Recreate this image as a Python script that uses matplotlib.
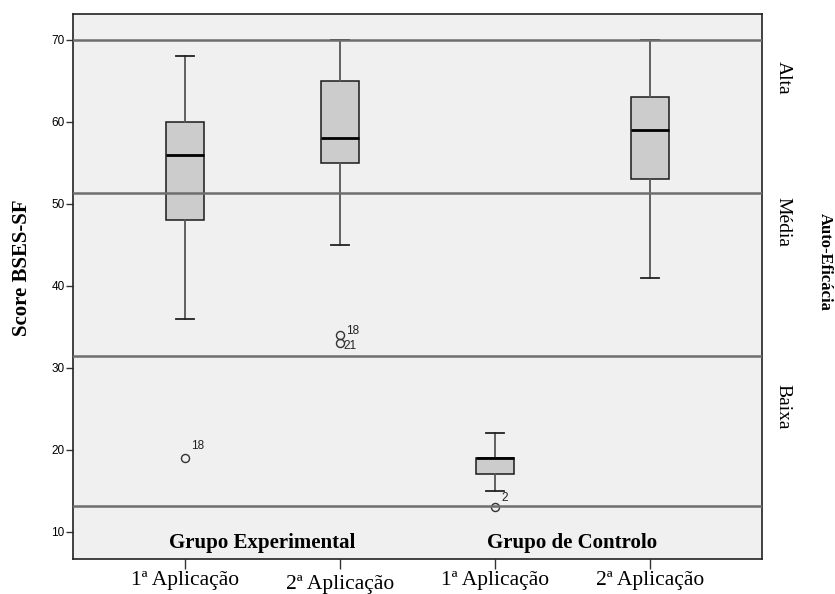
import matplotlib
matplotlib.use("Agg")
import matplotlib.pyplot as plt
from matplotlib import transforms

# values
groups = ["Grupo Experimental", "Grupo de Controlo"]
tick_labels = ["1ª Aplicação", "2ª Aplicação", "1ª Aplicação", "2ª Aplicação"]
whis_low = [36, 45, 15, 41]
q1 = [48, 55, 17, 53]
medians = [56, 58, 19, 59]
q3 = [60, 65, 19, 63]
whis_high = [68, 70, 22, 70]
outliers = [[19], [34, 33], [13], []]
outlier_ids = [["18"], ["18", "21"], ["2"], []]
level_cuts = [13.1, 31.4, 51.3, 70.0]
level_names = ["Alta", "Média", "Baixa"]

serif = "Liberation Serif"
sans = "Liberation Sans"

fig = plt.figure(figsize=(8.35, 5.94), dpi=100)
ax = fig.add_axes([73 / 835, 35 / 594, 689 / 835, 545 / 594])
ax.set_facecolor("#f0f0f0")

positions = [1, 2, 3, 4]
stats = []
for i in range(len(positions)):
    stats.append(dict(whislo=whis_low[i], q1=q1[i], med=medians[i], q3=q3[i],
                      whishi=whis_high[i], fliers=outliers[i]))

ax.bxp(stats, positions=positions, widths=0.25, capwidths=0.12,
       patch_artist=True, manage_ticks=False,
       boxprops=dict(facecolor="#cccccc", edgecolor="#1a1a1a", linewidth=1.1),
       whiskerprops=dict(color="#555555", linewidth=1.3),
       capprops=dict(color="#222222", linewidth=1.3),
       medianprops=dict(color="black", linewidth=2.0),
       flierprops=dict(marker="o", markerfacecolor="none", markeredgecolor="#333333",
                       markersize=5.8, markeredgewidth=1.0))

# outlier case numbers
offsets = [[(9.1, 8.6)], [(9.4, 2.9), (7.2, -2.2)], [(6.8, 6.5)], []]
for i, pos in enumerate(positions):
    for val, lab, off in zip(outliers[i], outlier_ids[i], offsets[i]):
        ax.annotate(lab, (pos, val), xytext=off, textcoords="offset points",
                    ha="center", va="center", fontsize=8.5, family=sans, color="#222222")

# level reference lines
for c in level_cuts:
    ax.axhline(c, color="#6e6e6e", linewidth=1.8, zorder=3)

ax.set_xlim(0.277, 4.723)
ax.set_ylim(6.67, 73.17)
ax.set_yticks([10, 20, 30, 40, 50, 60, 70])
ax.set_xticks(positions)
ax.set_xticklabels(tick_labels, family=serif, fontsize=15.5)
for k, lbl in enumerate(ax.get_xticklabels()):
    if k == 1:
        lbl.set_y(-0.006)
ax.tick_params(axis="y", labelsize=8.5, length=5, width=1, color="#333333", pad=1)
ax.tick_params(axis="x", length=7, width=1, color="#333333", pad=2)
for lbl in ax.get_yticklabels():
    lbl.set_family(sans)
for s in ax.spines.values():
    s.set_linewidth(1.2)
    s.set_color("#222222")

trans = transforms.blended_transform_factory(ax.transData, ax.transAxes)
for g, x in zip(groups, [1.5, 3.5]):
    ax.text(x, 0.03, g, transform=trans, ha="center", va="center",
            family=serif, fontweight="bold", fontsize=15)

ltrans = transforms.blended_transform_factory(fig.transFigure, ax.transData)
for name, y in zip(level_names, [65.4, 47.8, 25.3]):
    ax.text(783 / 835, y, name, transform=ltrans, rotation=270, ha="center", va="center",
            family=serif, fontsize=14, clip_on=False)

fig.text(22 / 835, 1 - 268 / 594, "Score BSES-SF", rotation=90, ha="center", va="center",
         family=serif, fontweight="bold", fontsize=15)
fig.text(825 / 835, 1 - 262 / 594, "Auto-Eficácia", rotation=270, ha="center", va="center",
         family=serif, fontweight="bold", fontsize=12)

fig.savefig("out.png", dpi=100)
